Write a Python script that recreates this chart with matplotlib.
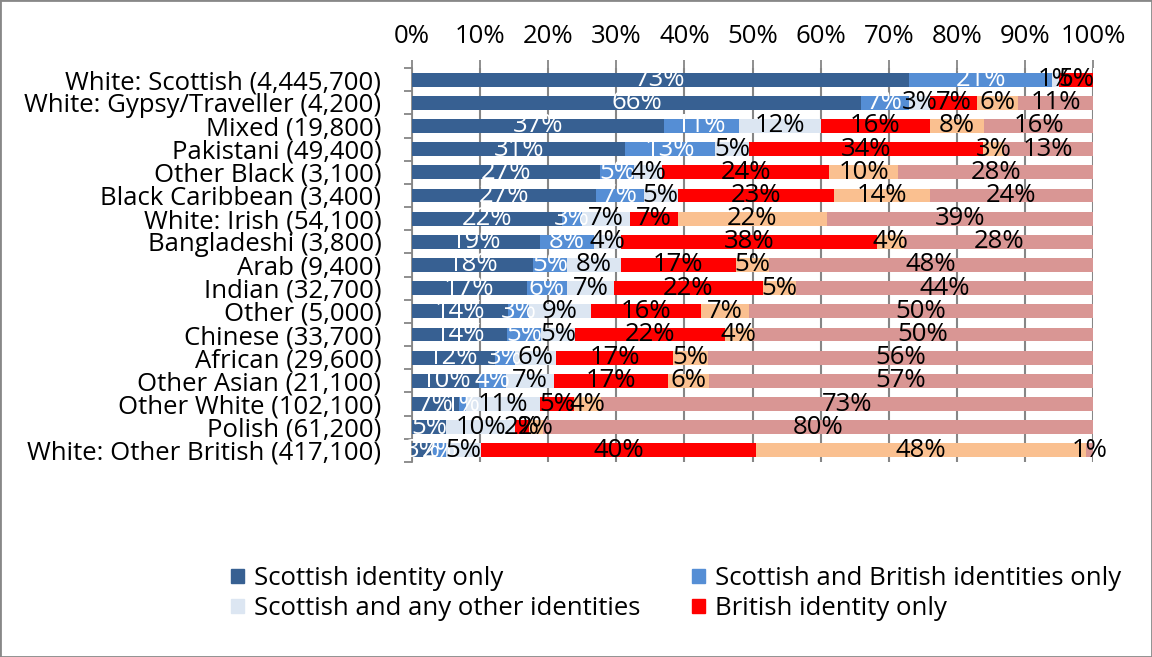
import numpy as np
import matplotlib.pyplot as plt
from matplotlib.patches import Rectangle, Patch

plt.rcParams['font.family'] = ['Open Sans', 'DejaVu Sans']

# Categories, top to bottom
groups = ['White: Scottish (4,445,700)', 'White: Gypsy/Traveller (4,200)', 'Mixed (19,800)',
          'Pakistani (49,400)', 'Other Black (3,100)', 'Black Caribbean (3,400)',
          'White: Irish (54,100)', 'Bangladeshi (3,800)', 'Arab (9,400)', 'Indian (32,700)',
          'Other (5,000)', 'Chinese (33,700)', 'African (29,600)', 'Other Asian (21,100)',
          'Other White (102,100)', 'Polish (61,200)', 'White: Other British (417,100)']

# Percentages per identity series (same order as groups)
scottish_only = [73, 66, 37, 31, 27, 27, 22, 19, 18, 17, 14, 14, 12, 10, 7, 5, 3]
scottish_british = [21, 7, 11, 13, 5, 7, 3, 8, 5, 6, 3, 5, 3, 4, 1, 0, 2]
scottish_other = [1, 3, 12, 5, 4, 5, 7, 4, 8, 7, 9, 5, 6, 7, 11, 10, 5]
british_only = [5, 7, 16, 34, 24, 23, 7, 38, 17, 22, 16, 22, 17, 17, 5, 2, 40]
british_other = [0, 6, 8, 3, 10, 14, 22, 4, 5, 5, 7, 4, 5, 6, 4, 2, 48]
other_only = [0, 11, 16, 13, 28, 24, 39, 28, 48, 44, 50, 50, 56, 57, 73, 80, 1]

series_names = ['Scottish identity only', 'Scottish and British identities only',
                'Scottish and any other identities', 'British identity only',
                'British and any other identities', 'Other identity only']
colors = ['#376092', '#558ED5', '#DCE6F2', '#FF0000', '#FAC090', '#D99694']
text_colors = ['white', 'white', 'black', 'black', 'black', 'black']

data = np.array([scottish_only, scottish_british, scottish_other,
                 british_only, british_other, other_only], dtype=float)
shares = data / data.sum(axis=0) * 100  # 100% stacked

fs = 18.5
fig = plt.figure(figsize=(11.52, 6.57), dpi=100)
ax = fig.add_axes([412 / 1152, 1 - 462 / 657, (1093 - 412) / 1152, (462 - 68) / 657])

y = np.arange(len(groups))
left = np.zeros(len(groups))
handles = []
for i in range(len(series_names)):
    bars = ax.barh(y, shares[i], left=left, height=0.6, color=colors[i], zorder=3)
    handles.append(Patch(color=colors[i], label=series_names[i]))
    for j, b in enumerate(bars):
        if data[i, j] > 0:
            ax.text(left[j] + shares[i, j] / 2, y[j], '%d%%' % data[i, j],
                    ha='center', va='center', fontsize=fs, color=text_colors[i], zorder=4)
    left += shares[i]

ax.set_xlim(0, 100)
ax.set_ylim(len(groups) - 0.5, -0.5)
ax.set_xticks(np.arange(0, 101, 10))
ax.set_xticklabels(['%d%%' % v for v in range(0, 101, 10)])
ax.xaxis.tick_top()
ax.tick_params(axis='x', length=6, width=1.3, color='#868686', labelsize=fs, pad=8)
ax.set_yticks(y)
ax.set_yticklabels(groups)
ax.set_yticks(np.arange(-0.5, len(groups)), minor=True)
ax.tick_params(axis='y', which='major', length=0, labelsize=fs, pad=22)
ax.tick_params(axis='y', which='minor', length=6, width=1.3, color='#868686')
ax.grid(axis='x', color='#868686', linewidth=1.5, zorder=0)
for s in ['top', 'right', 'bottom']:
    ax.spines[s].set_visible(False)
ax.spines['left'].set_color('#868686')
ax.spines['left'].set_linewidth(1.3)

legend_handles = [handles[0], handles[2], handles[1], handles[3]]
fig.legend(handles=legend_handles, ncol=2, loc='upper left', bbox_to_anchor=(226 / 1152, 1 - 561 / 657),
           frameon=False, fontsize=fs, handlelength=0.5, handleheight=0.5, handletextpad=0.4,
           columnspacing=2.0, labelspacing=0.2, borderpad=0.2, borderaxespad=0)

fig.add_artist(Rectangle((0, 0), 1, 1, transform=fig.transFigure, fill=False,
                         edgecolor='#888888', linewidth=2))

fig.savefig('out.png', dpi=100)
